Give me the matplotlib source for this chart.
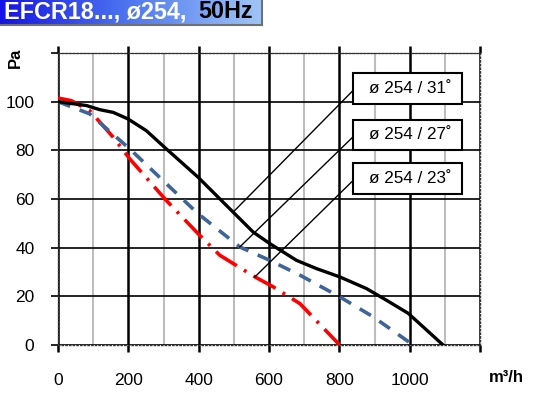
import numpy as np
import matplotlib.pyplot as plt
import matplotlib as mpl
from matplotlib.ticker import MultipleLocator
from matplotlib.patches import Rectangle

mpl.rcParams['font.family'] = ['Liberation Sans', 'DejaVu Sans']

# curve data (m3/h, Pa)
q31 = [0, 81, 119, 157, 199, 251, 308, 398, 498, 555, 602, 678, 735, 801, 877, 934, 996, 1095]
p31 = [100, 98.4, 96.7, 95.6, 92.9, 88.1, 80.6, 69, 54.6, 46.4, 41.7, 34.8, 31.4, 28, 23.2, 18.4, 13, 0]

q27 = [0, 90, 204, 308, 398, 517, 602, 688, 801, 896, 1010]
p27 = [100, 95, 80.6, 66.3, 54, 40.3, 34.8, 28.7, 19.8, 11.6, 0]

q23 = [0, 38, 90, 157, 204, 308, 398, 460, 498, 560, 612, 688, 801]
p23 = [101.5, 100.4, 96.3, 85.4, 76.5, 59.4, 45.8, 36.9, 33.5, 28, 23.9, 17, 0]

labels = ['ø 254 / 31˚', 'ø 254 / 27˚', 'ø 254 / 23˚']
anchor_q = [498, 517, 560]             # where each leader touches its curve
anchor_p = [54.6, 40.3, 28]

xticks = [0, 200, 400, 600, 800, 1000]
yticks = [0, 20, 40, 60, 80, 100]

# label box layout (data units)
box_x0, box_x1 = 839, 1149
box_y = [(99.0, 111.8), (80.1, 92.6), (62.0, 74.8)]

fig = plt.figure(figsize=(5.4, 3.95), dpi=100)

# title banner with blue gradient
tax = fig.add_axes([0, 1 - 25 / 395, 262 / 540, 25 / 395])
grad = np.linspace(0, 1, 256).reshape(1, -1)
cmap = mpl.colors.LinearSegmentedColormap.from_list('banner', ['#1414e6', '#4f78f0', '#a0c6f6'])
tax.imshow(grad, aspect='auto', cmap=cmap, extent=[0, 1, 0, 1])
tax.set_xlim(0, 1)
tax.set_ylim(0, 1)
tax.set_xticks([])
tax.set_yticks([])
for s in ['top', 'left']:
    tax.spines[s].set_visible(False)
for s in ['right', 'bottom']:
    tax.spines[s].set_color('#707070')
    tax.spines[s].set_linewidth(1.5)
tax.text(4 / 262, 0.52, 'EFCR18..., ø254,', color='white', fontsize=16.8,
         fontweight='bold', va='center', ha='left', transform=tax.transAxes)
tax.text(198 / 262, 0.52, '50Hz', color='black', fontsize=16.8,
         fontweight='bold', va='center', ha='left', transform=tax.transAxes)

ax = fig.add_axes([58 / 540, 1 - 345 / 395, 422 / 540, 292 / 395])
ax.set_xlim(0, 1200)
ax.set_ylim(0, 120)

ax.xaxis.set_major_locator(MultipleLocator(200))
ax.xaxis.set_minor_locator(MultipleLocator(100))
ax.yaxis.set_major_locator(MultipleLocator(20))
ax.grid(which='minor', axis='x', color='#bdbdbd', lw=1.5, zorder=0)
ax.grid(which='major', axis='x', color='black', lw=1.8, zorder=1)
ax.grid(which='major', axis='y', color='black', lw=1.2, zorder=1)
ax.set_axisbelow(True)

ax.set_xticks([0, 200, 400, 600, 800, 1000, 1200])
ax.set_xticklabels([str(v) for v in xticks] + [''])
ax.set_yticks([0, 20, 40, 60, 80, 100, 120])
ax.set_yticklabels([str(v) for v in yticks] + [''])
ax.tick_params(axis='x', which='major', direction='out', length=5, width=1.8,
               pad=15, labelsize=12.5, top=True)
ax.tick_params(axis='x', which='minor', length=0)
ax.tick_params(axis='y', which='major', direction='out', length=5, width=1.2,
               pad=12, labelsize=12.5)
for s in ax.spines.values():
    s.set_linestyle(':')
    s.set_linewidth(1.0)
    s.set_color('#333333')

ax.plot(q23, p23, color='#ff0000', lw=2.6, dashes=(7, 2.3, 0.8, 2.3), zorder=3)
ax.plot(q27, p27, color='#3f6598', lw=2.6, dashes=(3.6, 2.8), zorder=3)
ax.plot(q31, p31, color='black', lw=2.4, zorder=4)

# label boxes with leader lines
for lab, (y0, y1), aq, ap in zip(labels, box_y, anchor_q, anchor_p):
    ym = (y0 + y1) / 2
    ax.plot([aq, box_x0], [ap, ym - 0.8], color='black', lw=1.0, zorder=5)
    ax.add_patch(Rectangle((box_x0, y0), box_x1 - box_x0, y1 - y0, fc='white',
                           ec='black', lw=1.5, zorder=6))
    ax.text(box_x0 + 46, ym, lab, fontsize=12.3, ha='left', va='center', zorder=7)

fig.text(489 / 540, 1 - 378 / 395, 'm³/h', fontsize=12, fontweight='bold',
         ha='left', va='center')
fig.text(15 / 540, 1 - 58 / 395, 'Pa', fontsize=12, fontweight='bold',
         ha='center', va='center', rotation=90)

fig.savefig('out.png', dpi=100)
